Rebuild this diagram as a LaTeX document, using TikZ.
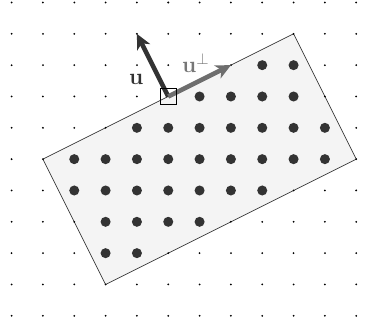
\documentclass[tikz,border=0pt]{standalone}
\usetikzlibrary{arrows.meta}
\definecolor{dotdark}{HTML}{333333}
\definecolor{vecgray}{HTML}{6E6E6E}
\definecolor{labgray}{HTML}{777777}
\definecolor{regfill}{HTML}{F4F4F4}
\tikzset{
  smalldot/.style={fill=black,draw=none},
  bigdot/.style={fill=dotdark,draw=none},
  region/.style={fill=regfill,draw=black!80,line width=0.6pt},
  vecarrow/.style={line width=4.2pt,-{Stealth[length=4.8mm,width=4.6mm,inset=1.4mm]}},
  veclabel/.style={font=\huge,inner sep=1pt}
}
\begin{document}
\begin{tikzpicture}
\useasboundingbox (-0.37,-0.29) rectangle (11.95,10.08);
% region
\coordinate (A) at (1,5);
\coordinate (B) at (9,9);
\coordinate (C) at (11,5);
\coordinate (D) at (3,1);
\draw[region] (A) -- (B) -- (C) -- (D) -- cycle;
% small lattice dots
\foreach \x in {0,...,11}
  \foreach \y in {0,...,10}
    \fill[smalldot] (\x,\y) circle (0.032);
% big dots
\foreach \x in {8,9} \fill[bigdot] (\x,8) circle (0.16);
\foreach \x in {6,...,9} \fill[bigdot] (\x,7) circle (0.16);
\foreach \x in {4,...,10} \fill[bigdot] (\x,6) circle (0.16);
\foreach \x in {2,...,10} \fill[bigdot] (\x,5) circle (0.16);
\foreach \x in {2,...,8} \fill[bigdot] (\x,4) circle (0.16);
\foreach \x in {3,...,6} \fill[bigdot] (\x,3) circle (0.16);
\foreach \x in {3,4} \fill[bigdot] (\x,2) circle (0.16);
% vectors
\coordinate (o) at (5,7);
\coordinate (ut) at (4,9);
\coordinate (pt) at (7,8);
\node[veclabel,text=dotdark,anchor=base] (ulab) at (3.98,7.39) {$\mathbf{u}$};
\node[veclabel,text=labgray,fill=white,anchor=base west] (plab) at (5.40,7.76) {$\mathbf{u}^{\perp}$};
\draw[vecarrow,draw=dotdark] (o) -- (ut);
\draw[vecarrow,draw=vecgray] (o) -- (pt);
\node[draw=black,line width=0.5pt,minimum size=0.5cm,inner sep=0pt] (sq) at (o) {};
\end{tikzpicture}
\end{document}
